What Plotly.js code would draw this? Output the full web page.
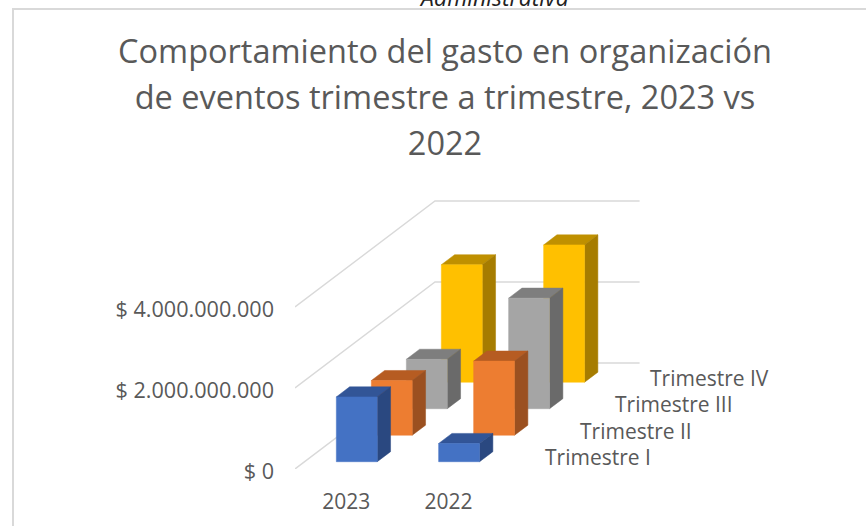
<!DOCTYPE html>
<html><head><meta charset="utf-8">
<script src="https://cdn.plot.ly/plotly-3.0.1.min.js"></script>
<style>html,body{margin:0;padding:0;background:#fff;overflow:hidden}#c{width:866px;height:526px}</style>
</head><body><div id="c"></div>
<script>
const years = ['2023', '2022'];
const quarters = ['Trimestre I', 'Trimestre II', 'Trimestre III', 'Trimestre IV'];
const t1 = [1600000000, 450000000];
const t2 = [1350000000, 1830000000];
const t3 = [1220000000, 2730000000];
const t4 = [2900000000, 3390000000];
const tickValues = [0, 2000000000, 4000000000];
const tickLabels = ['$ 0', '$ 2.000.000.000', '$ 4.000.000.000'];
const frontColors = ['#4472C4', '#ED7D31', '#A5A5A5', '#FFC000'];
const topColors = ['#325597', '#B65C22', '#7E7E7E', '#BF9000'];
const sideColors = ['#2A4880', '#9B5020', '#6A6A6A', '#A67C00'];
const series = [t1, t2, t3, t4];

// oblique projection of the (year, value, depth) space onto the 2D axes
const KX = 35 / 102.3, KY = 26.5 / 81 * 2e9;
const BAR_X = 0.31, BAR_W = 0.40, BAR_Z = 0.275, BAR_D = 0.38;
const px = (x, z) => x + z * KX;
const py = (v, z) => v + z * KY;
const PW = 866, PH = 526, L = 295, R = 66, T = 190, B = 57;

const traces = [];
function poly(pts, color) {
  traces.push({type: 'scatter', mode: 'lines', fill: 'toself', fillcolor: color,
    x: pts.map(p => px(p[0], p[2])).concat(px(pts[0][0], pts[0][2])),
    y: pts.map(p => py(p[1], p[2])).concat(py(pts[0][1], pts[0][2])),
    line: {color: color, width: 0.5}, hoverinfo: 'skip', showlegend: false, cliponaxis: false});
}
tickValues.forEach(v => {
  traces.push({type: 'scatter', mode: 'lines',
    x: [px(0, 0), px(0, 4), px(2, 4)], y: [py(v, 0), py(v, 4), py(v, 4)],
    line: {color: '#D9D9D9', width: 1.4}, hoverinfo: 'skip', showlegend: false, cliponaxis: false});
});
for (let r = series.length - 1; r >= 0; r--) {
  series[r].forEach((v, i) => {
    const x0 = i + BAR_X, x1 = x0 + BAR_W, z0 = r + BAR_Z, z1 = z0 + BAR_D;
    poly([[x0, v, z0], [x1, v, z0], [x1, v, z1], [x0, v, z1]], topColors[r]);
    poly([[x1, 0, z0], [x1, 0, z1], [x1, v, z1], [x1, v, z0]], sideColors[r]);
    poly([[x0, 0, z0], [x1, 0, z0], [x1, v, z0], [x0, v, z0]], frontColors[r]);
  });
}
const xScale = 102.3, yScale = 81 / 2e9;
const plotW = PW - L - R, plotH = PH - T - B;
const paperX = p => (p - L) / plotW;
const paperY = p => (PH - B - p) / plotH;
const font = {family: '"Open Sans", "Noto Sans", sans-serif', color: '#595959'};
const annotations = quarters.map((q, r) => ({
  text: q, xref: 'x', yref: 'y', showarrow: false, xanchor: 'left', yanchor: 'middle',
  x: px(2.42, r), y: py(0, r + 0.45), font: Object.assign({}, font, {size: 21})
}));
annotations.push({text: '<i>Administrativa</i>', xref: 'paper', yref: 'paper', x: paperX(494), y: paperY(-3),
  xanchor: 'center', yanchor: 'middle', showarrow: false,
  font: {family: '"Open Sans", sans-serif', size: 23, color: '#222'}});
const layout = {
  width: PW, height: PH, paper_bgcolor: '#fff', plot_bgcolor: 'rgba(0,0,0,0)',
  margin: {l: L, r: R, t: T, b: B, pad: 0}, showlegend: false, hovermode: false,
  title: {text: 'Comportamiento del gasto en organización<br>de eventos trimestre a trimestre, 2023 vs<br>2022',
    x: 445 / PW, xanchor: 'center', y: 1 - 100 / PH, yanchor: 'middle',
    font: Object.assign({}, font, {size: 32.5})},
  xaxis: {range: [0, plotW / xScale], tickmode: 'array', tickvals: [0.5, 1.5], ticktext: years,
    showgrid: false, zeroline: false, showline: false, ticks: '', ticklabelstandoff: 18,
    tickfont: Object.assign({}, font, {size: 21})},
  yaxis: {range: [0, plotH / yScale], tickmode: 'array', tickvals: tickValues, ticktext: tickLabels,
    showgrid: false, zeroline: false, showline: false, ticks: '', ticklabelstandoff: 20,
    tickfont: Object.assign({}, font, {size: 21.6})},
  annotations: annotations,
  shapes: [
    {type: 'line', xref: 'paper', yref: 'paper', x0: paperX(12), x1: paperX(866), y0: paperY(9), y1: paperY(9), line: {color: '#D9D9D9', width: 2}},
    {type: 'line', xref: 'paper', yref: 'paper', x0: paperX(13), x1: paperX(13), y0: paperY(9), y1: paperY(526), line: {color: '#D9D9D9', width: 2}}
  ]
};
Plotly.newPlot('c', traces, layout, {displayModeBar: false, staticPlot: true}).then(gd => {
  // the reference's title lines are spaced more loosely than Plotly's fixed line height
  gd.querySelectorAll('.gtitle tspan.line').forEach((t, i) => {
    t.setAttribute('dy', 0);
    t.setAttribute('y', 63 + i * 46);
  });
  gd.querySelectorAll('.ytick text').forEach(t => {
    t.setAttribute('y', parseFloat(t.getAttribute('y')) + 2.5);
  });
});
</script></body></html>
